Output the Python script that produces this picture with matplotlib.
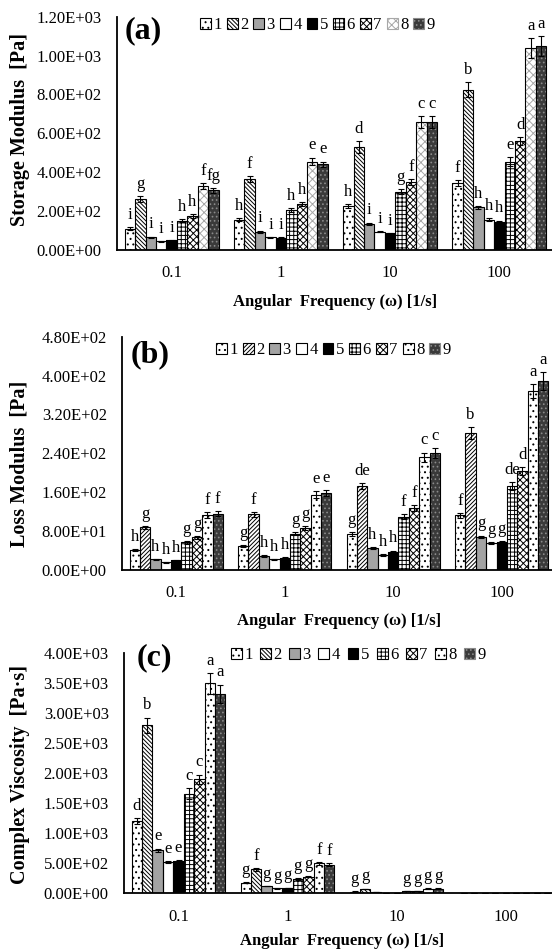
import numpy as np
import matplotlib
matplotlib.use('Agg')
import matplotlib.pyplot as plt
from matplotlib.patches import Patch
from matplotlib.ticker import FuncFormatter

plt.rcParams['font.family'] = ['Liberation Serif', 'DejaVu Serif']
plt.rcParams['hatch.linewidth'] = 0.7

freqs = ['0.1', '1', '10', '100']
names = ['1', '2', '3', '4', '5', '6', '7', '8', '9']

# storage modulus G' [Pa], one list per sample (0.1, 1, 10, 100 1/s)
storage = [[110, 155, 225, 345],
           [262, 365, 530, 825],
           [65, 95, 135, 220],
           [45, 65, 95, 155],
           [50, 62, 85, 145],
           [150, 205, 300, 455],
           [175, 235, 350, 560],
           [328, 455, 660, 1040],
           [307, 440, 660, 1050]]
storage_err = [[8, 8, 10, 15], [15, 15, 30, 40], [4, 5, 6, 8],
               [3, 3, 4, 8], [3, 3, 4, 6], [8, 10, 12, 25],
               [8, 10, 15, 20], [15, 20, 30, 50], [12, 15, 30, 50]]
storage_let = [['i', 'g', 'i', 'i', 'i', 'h', 'h', 'f', 'fg'],
               ['h', 'f', 'i', 'i', 'i', 'h', 'h', 'e', 'e'],
               ['h', 'd', 'i', 'i', 'i', 'g', 'f', 'c', 'c'],
               ['f', 'b', 'h', 'h', 'h', 'e', 'd', 'a', 'a']]

# loss modulus G'' [Pa]
loss = [[40, 49, 73, 112],
        [87, 114, 172, 282],
        [21, 28, 44, 67],
        [15, 21, 30, 54],
        [19, 24, 37, 57],
        [56, 74, 109, 172],
        [66, 85, 126, 203],
        [113, 154, 231, 368],
        [115, 157, 240, 389]]
loss_err = [[2, 2, 4, 5], [3, 5, 7, 12], [1, 2, 2, 3], [1, 1, 2, 2],
            [1, 1, 2, 2], [3, 3, 5, 8], [3, 4, 6, 8], [6, 7, 10, 15],
            [5, 6, 10, 18]]
loss_let = [['h', 'g', 'h', 'h', 'h', 'g', 'g', 'f', 'f'],
            ['g', 'f', 'h', 'h', 'h', 'g', 'g', 'e', 'e'],
            ['g', 'de', 'h', 'h', 'h', 'f', 'f', 'c', 'c'],
            ['f', 'b', 'g', 'g', 'g', 'de', 'd', 'a', 'a']]

# complex viscosity [Pa.s]
visc = [[1200, 180, 30, 4],
        [2800, 400, 75, 9],
        [720, 120, 20, 2],
        [520, 85, 12, 2],
        [540, 90, 12, 2],
        [1660, 240, 35, 5],
        [1900, 280, 40, 6],
        [3500, 500, 80, 11],
        [3330, 480, 80, 11]]
visc_err = [[50, 10, 3, 0.5], [130, 20, 5, 1], [25, 5, 2, 0.3],
            [20, 5, 1, 0.3], [20, 5, 1, 0.3], [90, 12, 3, 0.5],
            [80, 12, 3, 0.5], [170, 25, 5, 1], [150, 20, 5, 1]]
visc_let = [['d', 'b', 'e', 'e', 'e', 'c', 'c', 'a', 'a'],
            ['g', 'f', 'g', 'g', 'g', 'g', 'g', 'f', 'f'],
            ['g', 'g', '', '', '', 'g', 'g', 'g', 'g'],
            ['', '', '', '', '', '', '', '', '']]

# fill / hatch / hatch colour for each sample
def styles(h2, h8, c8):
    return [('white', '...', 'black'),
            ('white', h2, 'black'),
            ('#a3a3a3', '', 'black'),
            ('white', '', 'black'),
            ('black', '', 'black'),
            ('white', '++++', 'black'),
            ('white', 'xxxxx', 'black'),
            ('white', h8, c8),
            ('#3a3a3a', '....', '#8a8a8a')]

W, H = 552, 951
fig = plt.figure(figsize=(W / 100, H / 100), dpi=100)


def panel(left, top, bottom, right, vals, errs, lets, sty, ymax, step,
          ylabel, tag, leg_x, leg_y, colsp, tag_x, tag_y, ylab_y, tpad):
    ax = fig.add_axes([left / W, 1 - bottom / H, (right - left) / W,
                       (bottom - top) / H])
    x = np.arange(len(freqs))
    w = 0.0956
    for i in range(len(names)):
        xs = x + (i - 4) * w
        fc, hatch, hc = sty[i]
        ax.bar(xs, vals[i], w, color=fc, hatch=hatch, edgecolor=hc, lw=0,
               zorder=2)
        ax.bar(xs, vals[i], w, fill=False, edgecolor='black', lw=0.8,
               zorder=3)
        ax.errorbar(xs, vals[i], yerr=errs[i], fmt='none', ecolor='black',
                    elinewidth=0.8, capsize=2.5, capthick=0.8, zorder=4)
        for j in range(len(freqs)):
            ax.annotate(lets[j][i], (xs[j], vals[i][j] + errs[i][j]),
                        xytext=(0, 3), textcoords='offset points',
                        ha='center', va='bottom', fontsize=12)
    ax.set_xlim(-0.5, 3.5)
    ax.set_ylim(0, ymax)
    ax.set_yticks(np.arange(0, ymax + step / 2, step))
    ax.yaxis.set_major_formatter(FuncFormatter(lambda v, p: '%.2E' % v))
    ax.set_xticks(x)
    ax.set_xticklabels(freqs)
    ax.tick_params(axis='both', length=0, labelsize=12)
    ax.tick_params(axis='y', pad=11)
    ax.tick_params(axis='x', pad=11)
    for s in ['top', 'right']:
        ax.spines[s].set_visible(False)
    for s in ['left', 'bottom']:
        ax.spines[s].set_linewidth(1.3)
    ax.set_xlabel('Angular  Frequency (\u03c9) [1/s]', fontsize=12,
                  fontweight='bold', labelpad=tpad)
    ax.patch.set_alpha(0)
    fig.text(20 / W, 1 - ylab_y / H, ylabel, rotation=90, ha='center',
             va='center', fontsize=14.5, fontweight='bold')
    fig.text(tag_x / W, 1 - tag_y / H, tag, ha='left', va='center',
             fontsize=23, fontweight='bold')
    handles = [Patch(facecolor=s[0], hatch=s[1],
                     edgecolor='black' if s[2] == 'black' else s[2],
                     lw=0.8) for s in sty]
    fig.legend(handles, names, loc='center left',
               bbox_to_anchor=(leg_x / W, 1 - leg_y / H), ncol=9,
               frameon=False, fontsize=12, handlelength=0.65,
               handleheight=0.65, handletextpad=0.15, columnspacing=colsp,
               borderpad=0, borderaxespad=0)
    return ax


panel(117, 16.7, 250, 554, storage, storage_err, storage_let,
      styles('\\\\\\\\\\\\\\\\', 'xxxx', '#a8a8a8'), 1200, 200,
      'Storage Modulus  [Pa]', '(a)', 200, 25, 0.3, 125, 31, 130, 9)
panel(122, 336.7, 569.5, 556, loss, loss_err, loss_let,
      styles('////////', '...', 'black'), 480, 80,
      'Loss Modulus  [Pa]', '(b)', 216, 350, 0.3, 131, 355, 464, 9)
panel(124, 653.3, 893.3, 560, visc, visc_err, visc_let,
      styles('\\\\\\\\\\\\\\\\', '...', 'black'), 4000, 500,
      'Complex Viscosity  [Pa\u00b7s]', '(c)', 231, 655, 0.45,
      137, 658, 774, 6)

fig.savefig('out.png', dpi=100)
